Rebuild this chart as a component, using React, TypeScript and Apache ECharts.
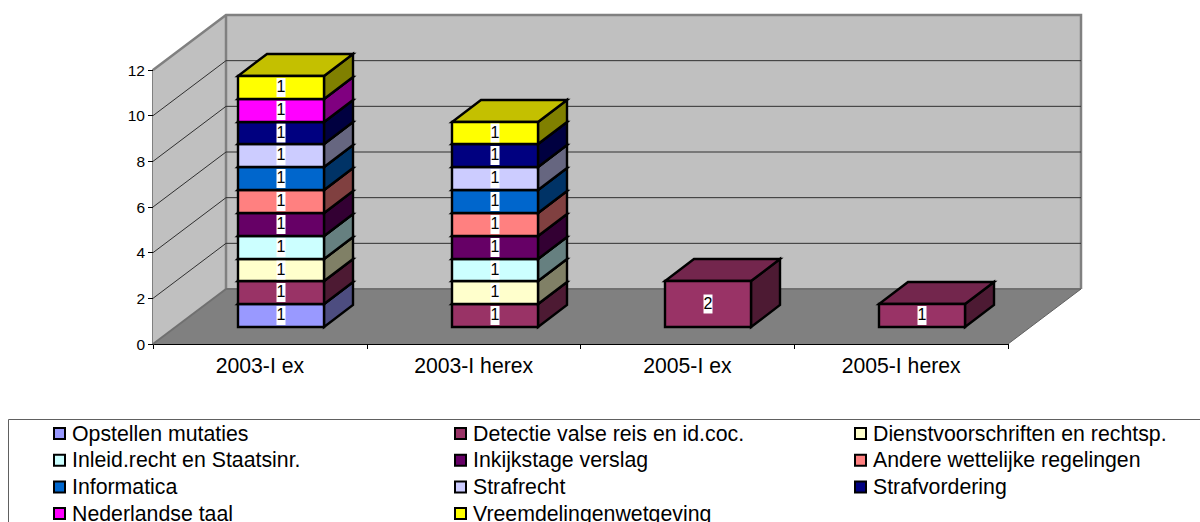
import React, { useEffect, useRef } from "react";
import * as echarts from "echarts";

const categories = ["2003-I ex", "2003-I herex", "2005-I ex", "2005-I herex"];
const seriesNames = [
  "Opstellen mutaties",
  "Detectie valse reis en id.coc.",
  "Dienstvoorschriften en rechtsp.",
  "Inleid.recht en Staatsinr.",
  "Inkijkstage verslag",
  "Andere wettelijke regelingen",
  "Informatica",
  "Strafrecht",
  "Strafvordering",
  "Nederlandse taal",
  "Vreemdelingenwetgeving",
];
const opstellen = [1, 0, 0, 0];
const detectie = [1, 1, 2, 1];
const dienst = [1, 1, 0, 0];
const inleid = [1, 1, 0, 0];
const inkijk = [1, 1, 0, 0];
const andere = [1, 1, 0, 0];
const informatica = [1, 1, 0, 0];
const strafrecht = [1, 1, 0, 0];
const strafvordering = [1, 1, 0, 0];
const nederlands = [1, 0, 0, 0];
const vreemdeling = [1, 1, 0, 0];
const seriesValues = [
  opstellen, detectie, dienst, inleid, inkijk, andere,
  informatica, strafrecht, strafvordering, nederlands, vreemdeling,
];
const frontColors = ["#9999FF", "#993366", "#FFFFCC", "#CCFFFF", "#660066", "#FF8080", "#0066CC", "#CCCCFF", "#000080", "#FF00FF", "#FFFF00"];
const sideColors = ["#4D4D80", "#4D1A33", "#808066", "#668080", "#330033", "#804040", "#003366", "#666680", "#000040", "#800080", "#808000"];
const topColors = ["#7373BF", "#73264D", "#BFBF99", "#99BFBF", "#4D004D", "#BF6060", "#004D99", "#9999BF", "#000060", "#BF00BF", "#C4C000"];
const yTicks = [0, 2, 4, 6, 8, 10, 12];
const legendColumns = [
  [0, 3, 6, 9],
  [1, 4, 7, 10],
  [2, 5, 8],
];
const legendLefts = [53, 454, 854];

const FONT = "Liberation Sans, Arial, sans-serif";
const WALL_DX = 73;
const WALL_DY = 55;
const BAR_W = 86;
const BAR_SHIFT_X = 21;
const BAR_SHIFT_Y = 17;
const BAR_DX = 29;
const BAR_DY = 22;

function wallItem(params: any, api: any) {
  const v = api.value(0);
  const cs = params.coordSys;
  const y = api.coord([0, v])[1];
  const x0 = cs.x;
  const x1 = cs.x + cs.width;
  const dx = WALL_DX;
  const dy = WALL_DY;
  if (v === 0) {
    const top = cs.y;
    return {
      type: "group",
      children: [
        { type: "polygon", shape: { points: [[x0 + dx, top - dy], [x1 + dx, top - dy], [x1 + dx, y - dy], [x0 + dx, y - dy]] }, style: { fill: "#C0C0C0", stroke: "none" } },
        { type: "polygon", shape: { points: [[x0, y], [x0 + dx, y - dy], [x0 + dx, top - dy], [x0, top]] }, style: { fill: "#C0C0C0", stroke: "none" } },
        { type: "polygon", shape: { points: [[x0, y], [x1, y], [x1 + dx, y - dy], [x0 + dx, y - dy]] }, style: { fill: "#808080", stroke: "none" } },
        { type: "polyline", shape: { points: [[x0, top], [x0 + dx, top - dy], [x1 + dx, top - dy], [x1 + dx, y - dy]] }, style: { fill: "none", stroke: "#808080", lineWidth: 2.5 } },
        { type: "line", shape: { x1: x0 + dx, y1: top - dy, x2: x0 + dx, y2: y - dy }, style: { stroke: "#808080", lineWidth: 2.5 } },
        { type: "line", shape: { x1: x0, y1: y, x2: x0 + dx, y2: y - dy }, style: { stroke: "#707070", lineWidth: 2 } },
        { type: "line", shape: { x1: x0 + dx, y1: y - dy, x2: x1 + dx, y2: y - dy }, style: { stroke: "#707070", lineWidth: 2 } },
        { type: "line", shape: { x1: x1, y1: y, x2: x1 + dx, y2: y - dy }, style: { stroke: "#606060", lineWidth: 1 } },
      ],
    };
  }
  if (v === 12) return { type: "group", children: [] };
  return {
    type: "polyline",
    shape: { points: [[x0, y], [x0 + dx, y - dy], [x1 + dx, y - dy]] },
    style: { fill: "none", stroke: "#303030", lineWidth: 1 },
  };
}

function blockItem(si: number) {
  return (_params: any, api: any) => {
    const cat = api.value(0);
    const base = api.value(1);
    const val = api.value(2);
    const pb = api.coord([cat, base]);
    const pt = api.coord([cat, base + val]);
    const l = Math.round(pb[0] - BAR_W / 2 + BAR_SHIFT_X);
    const r = l + BAR_W;
    const b = Math.round(pb[1] - BAR_SHIFT_Y);
    const t = Math.round(pt[1] - BAR_SHIFT_Y);
    const stroke = { stroke: "#000", lineWidth: 2.4, lineJoin: "miter" };
    const cx = (l + r) / 2;
    const cy = (t + b) / 2;
    return {
      type: "group",
      children: [
        { type: "polygon", shape: { points: [[r, b], [r + BAR_DX, b - BAR_DY], [r + BAR_DX, t - BAR_DY], [r, t]] }, style: { fill: sideColors[si], ...stroke } },
        { type: "polygon", shape: { points: [[l, t], [r, t], [r + BAR_DX, t - BAR_DY], [l + BAR_DX, t - BAR_DY]] }, style: { fill: topColors[si], ...stroke } },
        { type: "rect", shape: { x: l, y: t, width: BAR_W, height: b - t }, style: { fill: frontColors[si], ...stroke } },
        { type: "rect", shape: { x: cx - 4.5, y: cy - 9.5, width: 9, height: 19 }, style: { fill: "#fff", stroke: "none" } },
        { type: "text", x: cx, y: cy - 1, style: { text: String(val), fill: "#000", font: `16px ${FONT}`, align: "center", verticalAlign: "middle" } },
      ],
    };
  };
}

export default function App() {
  const ref = useRef<HTMLDivElement>(null);
  useEffect(() => {
    document.body.style.margin = "0";
    const chart = echarts.init(ref.current!, undefined, { renderer: "svg" });
    const running = categories.map(() => 0);
    const barSeries = seriesNames.map((name, si) => {
      const data: number[][] = [];
      seriesValues[si].forEach((v, c) => {
        if (v > 0) {
          data.push([c, running[c], v]);
          running[c] += v;
        }
      });
      return {
        type: "custom",
        name,
        coordinateSystem: "cartesian2d",
        clip: false,
        z: 5,
        itemStyle: { color: frontColors[si] },
        encode: { x: 0, y: 1 },
        renderItem: blockItem(si),
        data,
      };
    });
    chart.setOption({
      animation: false,
      backgroundColor: "#fff",
      textStyle: { fontFamily: FONT, color: "#000" },
      grid: { left: 153, top: 70, width: 855, height: 274, containLabel: false },
      xAxis: {
        type: "category",
        data: categories,
        boundaryGap: true,
        axisLine: { lineStyle: { color: "#000", width: 1 } },
        axisTick: { show: true, length: 5, lineStyle: { color: "#000" } },
        axisLabel: { color: "#000", fontFamily: FONT, fontSize: 21.2, margin: 11 },
      },
      yAxis: {
        type: "value",
        min: 0,
        max: 12,
        interval: 2,
        splitLine: { show: false },
        axisLine: { show: true, lineStyle: { color: "#808080", width: 2 } },
        axisTick: { show: true, length: 5, lineStyle: { color: "#000" } },
        axisLabel: { color: "#000", fontFamily: FONT, fontSize: 15.5, margin: 8, padding: [0, 0, 2, 0] },
      },
      legend: legendColumns.map((col, i) => ({
        orient: "vertical",
        left: legendLefts[i],
        top: 423,
        height: 200,
        data: col.map((k) => seriesNames[k]),
        icon: "rect",
        itemWidth: 11,
        itemHeight: 11,
        itemGap: 5.7,
        selectedMode: false,
        padding: 0,
        itemStyle: { borderColor: "#000", borderWidth: 2 },
        textStyle: { color: "#000", fontFamily: FONT, fontSize: 21.3, padding: [0, 0, 0, 2] },
      })),
      graphic: [
        {
          type: "polyline",
          silent: true,
          shape: { points: [[8.5, 530], [8.5, 419.5], [1210, 419.5]] },
          style: { fill: "none", stroke: "#606060", lineWidth: 1 },
        },
      ],
      series: [
        {
          type: "custom",
          name: "walls",
          coordinateSystem: "cartesian2d",
          clip: false,
          z: 1,
          silent: true,
          encode: { y: 0 },
          renderItem: wallItem,
          data: yTicks.map((v) => [v]),
        },
        ...barSeries,
      ],
    });
    return () => chart.dispose();
  }, []);
  return <div ref={ref} style={{ width: 1200, height: 522 }} />;
}
